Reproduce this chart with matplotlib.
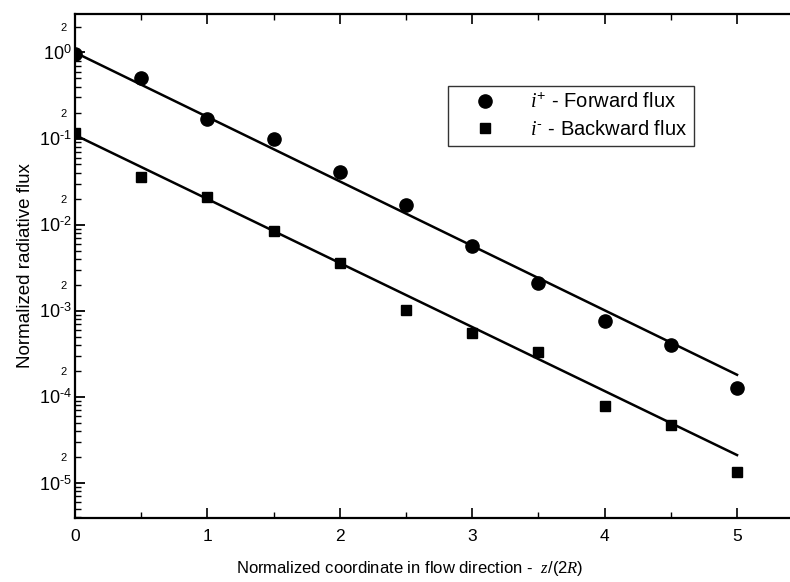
import matplotlib
matplotlib.use("Agg")
import matplotlib.pyplot as plt
from matplotlib.ticker import LogLocator, FuncFormatter, MultipleLocator, FixedLocator
import numpy as np

plt.rcParams['font.family'] = ['Liberation Sans', 'DejaVu Sans']
plt.rcParams['mathtext.fontset'] = 'custom'
plt.rcParams['mathtext.rm'] = 'Liberation Sans'
plt.rcParams['mathtext.it'] = 'Liberation Serif:italic'

# data
x_pts = [0.0, 0.5, 1.0, 1.5, 2.0, 2.5, 3.0, 3.5, 4.0, 4.5, 5.0]
forward = [0.97, 0.51, 0.17, 0.098, 0.041, 0.0167, 0.0057, 0.0021, 7.6e-4, 4.0e-4, 1.27e-4]
backward = [0.117, 0.036, 0.021, 0.0085, 0.0036, 0.00103, 5.5e-4, 3.3e-4, 7.9e-5, 4.7e-5, 1.35e-5]
fit_x = [0.0, 5.0]
forward_fit = [1.0, 1.8e-4]
backward_fit = [0.11, 2.1e-5]
x_ticks = [0, 1, 2, 3, 4, 5]

fig = plt.figure(figsize=(7.9, 5.82), dpi=100)
ax = fig.add_axes([75/790, 1-518/582, 1-75/790, (518-14)/582])

ax.plot(fit_x, forward_fit, color='black', lw=1.8, zorder=2)
ax.plot(fit_x, backward_fit, color='black', lw=1.8, zorder=2)
ax.plot(x_pts, forward, 'o', color='black', ms=9.5, ls='none', zorder=3,
        label=r'$i^{+}$ - Forward flux')
ax.plot(x_pts, backward, 's', color='black', ms=6.5, ls='none', zorder=3,
        label=r'$i^{\text{-}}$ - Backward flux')

ax.set_yscale('log')
ax.set_xlim(0, 5.4)
ax.set_ylim(3.9e-6, 2.8)

ax.xaxis.set_major_locator(FixedLocator(x_ticks))
ax.xaxis.set_minor_locator(MultipleLocator(0.5))
ax.yaxis.set_major_locator(LogLocator(base=10, numticks=20))
ax.yaxis.set_minor_locator(LogLocator(base=10, subs=np.arange(2, 10), numticks=20))

def major_fmt(v, pos):
    e = int(round(np.log10(v)))
    if e < 0:
        return r'$10^{\text{-}%d}$' % (-e)
    return r'$10^{%d}$' % e

def minor_fmt(v, pos):
    e = np.floor(np.log10(v) + 1e-9)
    m = v / 10**e
    return '2' if abs(m - 2) < 0.01 else ''

ax.yaxis.set_major_formatter(FuncFormatter(major_fmt))
ax.yaxis.set_minor_formatter(FuncFormatter(minor_fmt))

ax.tick_params(axis='y', which='major', direction='in', length=7, width=1.3,
               labelsize=13, pad=2)
ax.tick_params(axis='y', which='minor', direction='in', length=4, width=1.0,
               labelsize=8, pad=6)
ax.tick_params(axis='x', which='major', direction='in', length=7, width=1.2,
               labelsize=12.5, pad=8, top=True)
ax.tick_params(axis='x', which='minor', direction='in', length=4, width=1.0, top=True)

for s in ['left', 'bottom', 'top']:
    ax.spines[s].set_linewidth(1.6)
ax.spines['right'].set_visible(False)

ax.set_ylabel('Normalized radiative flux', fontsize=13.5, labelpad=4)
ax.set_xlabel(r'Normalized coordinate in flow direction -  $z$/(2$R$)', fontsize=12)
ax.xaxis.set_label_coords((410-75)/715, -(568-518)/504, transform=ax.transAxes)
ax.xaxis.label.set_va('center')

leg = ax.legend(loc='upper left', bbox_to_anchor=((448-75)/715, (518-86)/504),
                frameon=True, fancybox=False, edgecolor='black', fontsize=14.5,
                handletextpad=0.75, borderpad=0.32, labelspacing=0.42,
                handlelength=3.0, borderaxespad=0)
leg.get_frame().set_linewidth(1.0)

fig.savefig('out.png', dpi=100)
